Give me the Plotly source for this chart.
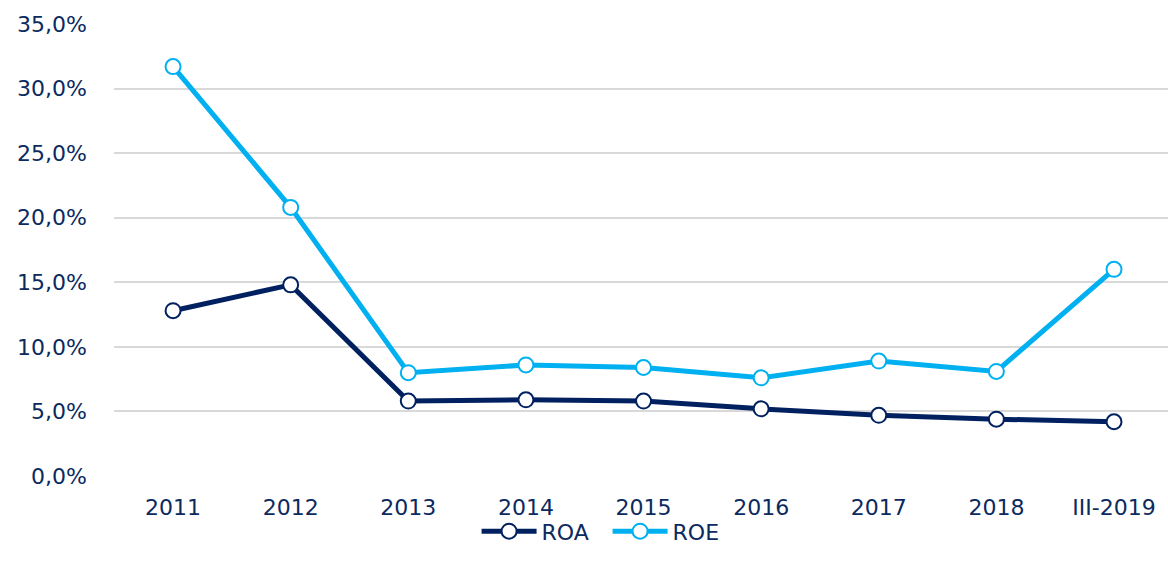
import plotly.graph_objects as go

categories = ["2011", "2012", "2013", "2014", "2015", "2016", "2017", "2018", "III-2019"]
roa = [0.128, 0.148, 0.058, 0.059, 0.058, 0.052, 0.047, 0.044, 0.042]
roe = [0.317, 0.208, 0.080, 0.086, 0.084, 0.076, 0.089, 0.081, 0.160]
y_ticks = [0, 0.05, 0.10, 0.15, 0.20, 0.25, 0.30, 0.35]

text_color = "#0B2A5E"
font_family = "Verdana, 'DejaVu Sans', sans-serif"

fig = go.Figure()
for name, vals, color in [("ROA", roa, "#002060"), ("ROE", roe, "#00B0F0")]:
    fig.add_trace(go.Scatter(
        x=categories, y=vals, name=name, mode="lines+markers",
        line=dict(color=color, width=5),
        marker=dict(symbol="circle", size=15, color="white",
                    line=dict(color=color, width=2)),
    ))

fig.update_layout(
    width=1168, height=572,
    margin=dict(l=114, r=0, t=24, b=96),
    paper_bgcolor="white", plot_bgcolor="white",
    separators=",.",
    font=dict(family=font_family, size=22, color=text_color),
    showlegend=True,
    legend=dict(orientation="h", x=0.344, xanchor="left", y=-0.076, yanchor="top",
                font=dict(size=22, color=text_color), bgcolor="rgba(0,0,0,0)",
                traceorder="normal", tracegroupgap=0, itemwidth=55,
                entrywidth=61, entrywidthmode="pixels"),
    xaxis=dict(type="category", range=[-0.502, 8.459], showgrid=False, showline=False,
               zeroline=False, ticks="outside", ticklen=12, tickcolor="rgba(0,0,0,0)",
               automargin=False, tickfont=dict(size=22, color=text_color)),
    yaxis=dict(range=[0, 0.35], tickvals=y_ticks, tickformat=".1%",
               showgrid=True, gridcolor="#D9D9D9", gridwidth=2,
               zeroline=False, showline=False, ticklabelstandoff=26,
               automargin=False, tickfont=dict(size=22, color=text_color)),
)

fig.write_html("out.html", config={"displayModeBar": False},
               post_script="document.body.style.margin='0';")
